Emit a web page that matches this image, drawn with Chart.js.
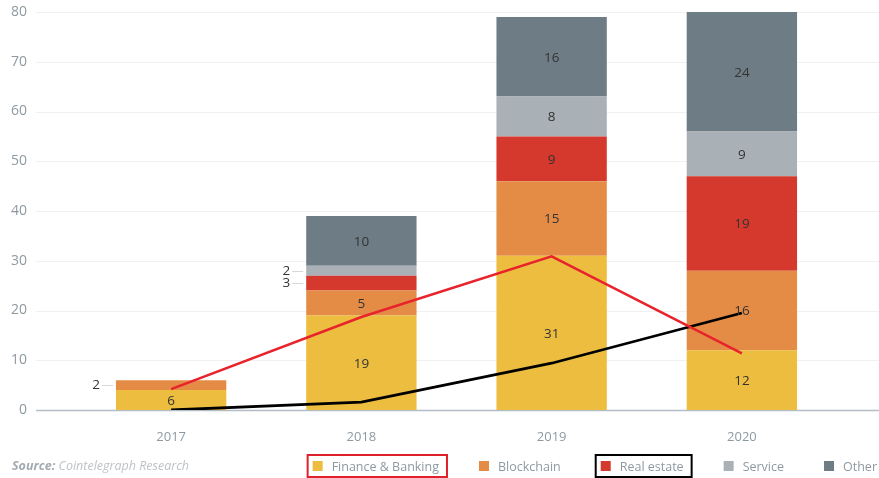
<!DOCTYPE html>
<html>
<head>
<meta charset="utf-8">
<script src="https://cdn.jsdelivr.net/npm/chart.js@4.4.0/dist/chart.umd.min.js"></script>
<style>
  html, body { margin: 0; padding: 0; background: #fff; }
  #wrap { width: 879px; height: 478px; }
</style>
</head>
<body>
<div id="wrap"><canvas id="chart" width="879" height="478"></canvas></div>
<script>
// Data
const years = ['2017', '2018', '2019', '2020'];
const finance = [4, 19, 31, 12];
const financeText = ['6', '19', '31', '12']; // printed labels as in the source
const blockchain = [2, 5, 15, 16];
const realEstate = [0, 3, 9, 19];
const service = [0, 2, 8, 9];
const other = [0, 10, 16, 24];
const financeTrend = [4.2, 18.7, 30.9, 11.4];
const realEstateTrend = [0, 1.6, 9.4, 19.5];
const yTicks = [0, 10, 20, 30, 40, 50, 60, 70, 80];

const FONT = '"Open Sans", "DejaVu Sans", sans-serif';
const GREY_TEXT = '#8f99a1';

// light grid lines that run past the plot area, and the zero line
const gridPlugin = {
  id: 'grid',
  beforeDatasetsDraw(chart) {
    const ctx = chart.ctx;
    const y = chart.scales.y;
    ctx.save();
    yTicks.forEach(v => {
      const py = Math.round(y.getPixelForValue(v)) + 0.5;
      ctx.beginPath();
      ctx.strokeStyle = v === 0 ? '#b3bdc5' : '#f1f1f1';
      ctx.lineWidth = v === 0 ? 1.5 : 1;
      ctx.moveTo(36, py);
      ctx.lineTo(chart.width, py);
      ctx.stroke();
    });
    ctx.restore();
  }
};

// numbers inside segments, small ones pulled out to the left
const labelPlugin = {
  id: 'segLabels',
  afterDraw(chart) {
    const ctx = chart.ctx;
    ctx.save();
    ctx.font = '13.5px ' + FONT;
    ctx.textBaseline = 'middle';
    chart.data.datasets.forEach((ds, di) => {
      if (ds.type !== 'bar') return;
      const meta = chart.getDatasetMeta(di);
      meta.data.forEach((bar, i) => {
        const v = ds.data[i];
        if (!v) return;
        const text = ds.labelText ? ds.labelText[i] : String(v);
        const cy = (bar.y + bar.base) / 2;
        if (v <= 3) {
          const left = bar.x - bar.width / 2;
          ctx.strokeStyle = '#d5d9dc';
          ctx.lineWidth = 1;
          ctx.beginPath();
          ctx.moveTo(left - 14, Math.round(cy) + 0.5);
          ctx.lineTo(left - 3, Math.round(cy) + 0.5);
          ctx.stroke();
          ctx.fillStyle = '#333';
          ctx.textAlign = 'right';
          ctx.fillText(text, left - 16, cy);
        } else {
          ctx.fillStyle = '#333';
          ctx.textAlign = 'center';
          ctx.fillText(text, bar.x, cy + 1);
        }
      });
    });
    ctx.restore();
  }
};

// footer: source note and legend with the two marked entries
const footerPlugin = {
  id: 'footer',
  afterDraw(chart) {
    const ctx = chart.ctx;
    const rowY = 466;
    ctx.save();
    ctx.textBaseline = 'middle';
    ctx.textAlign = 'left';
    ctx.font = 'italic bold 12.5px ' + FONT;
    ctx.fillStyle = '#a3abb1';
    ctx.fillText('Source:', 12, rowY);
    const sw = ctx.measureText('Source: ').width;
    ctx.font = 'italic 12.5px ' + FONT;
    ctx.fillStyle = '#bcc3c8';
    ctx.fillText('Cointelegraph Research', 12 + sw, rowY);

    ctx.font = '12.5px ' + FONT;
    const items = chart.data.datasets.filter(d => d.type === 'bar');
    const widths = items.map(d => ctx.measureText(d.label).width);
    const gap = 40;
    let total = widths.reduce((a, w) => a + 19 + w, 0) + gap * (items.length - 1);
    let x = 877 - total;
    items.forEach((d, i) => {
      ctx.fillStyle = d.backgroundColor;
      ctx.fillRect(x, rowY - 5, 10, 10);
      ctx.fillStyle = GREY_TEXT;
      ctx.fillText(d.label, x + 19, rowY + 1);
      if (d.marker) {
        ctx.strokeStyle = d.marker;
        ctx.lineWidth = 2;
        ctx.strokeRect(x - 5, 455, 19 + widths[i] + 13, 22);
      }
      x += 19 + widths[i] + gap;
    });
    ctx.restore();
  }
};

// empty axis used only to hold space
const spacer = (pos, weight, w) => ({
  position: pos,
  weight: weight,
  grid: { display: false, drawTicks: false },
  border: { display: false },
  ticks: { display: false },
  afterFit: s => { s.width = w; }
});

new Chart(document.getElementById('chart'), {
  data: {
    labels: years,
    datasets: [
      { type: 'line', label: 'Finance trend', data: financeTrend, yAxisID: 'yLine',
        borderColor: '#e8232b', borderWidth: 2.5, pointRadius: 0, tension: 0, order: -1 },
      { type: 'line', label: 'Real estate trend', data: realEstateTrend, yAxisID: 'yLine',
        borderColor: '#000000', borderWidth: 2.8, pointRadius: 0, tension: 0, order: -1 },
      { type: 'bar', label: 'Finance & Banking', data: finance, labelText: financeText,
        backgroundColor: '#ecbd3f', marker: '#e0202a' },
      { type: 'bar', label: 'Blockchain', data: blockchain, backgroundColor: '#e48c46' },
      { type: 'bar', label: 'Real estate', data: realEstate, backgroundColor: '#d5392e', marker: '#000000' },
      { type: 'bar', label: 'Service', data: service, backgroundColor: '#a9b1b6' },
      { type: 'bar', label: 'Other', data: other, backgroundColor: '#6e7c85' }
    ]
  },
  options: {
    responsive: false,
    animation: false,
    layout: { padding: { top: 12, left: 0, right: 0, bottom: 0 } },
    datasets: { bar: { barPercentage: 0.58, categoryPercentage: 1 } },
    plugins: { legend: { display: false }, tooltip: { enabled: false } },
    scales: {
      x: {
        stacked: true,
        grid: { display: false, drawTicks: false },
        border: { display: false },
        ticks: { color: GREY_TEXT, font: { family: FONT, size: 13 }, padding: 19 },
        afterFit: s => { s.height = 68; }
      },
      y: {
        stacked: true,
        weight: 2,
        min: 0, max: 80,
        grid: { display: false, drawTicks: false },
        border: { display: false },
        ticks: { color: GREY_TEXT, font: { family: FONT, size: 14 }, padding: 0 },
        afterBuildTicks: s => { s.ticks = yTicks.map(v => ({ value: v })); },
        afterFit: s => { s.width = 27; }
      },
      yGap: spacer('left', 0, 49),
      yLine: { display: false, min: 0, max: 80 },
      yRight: spacer('right', 0, 42)
    }
  },
  plugins: [gridPlugin, labelPlugin, footerPlugin]
});
</script>
</body>
</html>
